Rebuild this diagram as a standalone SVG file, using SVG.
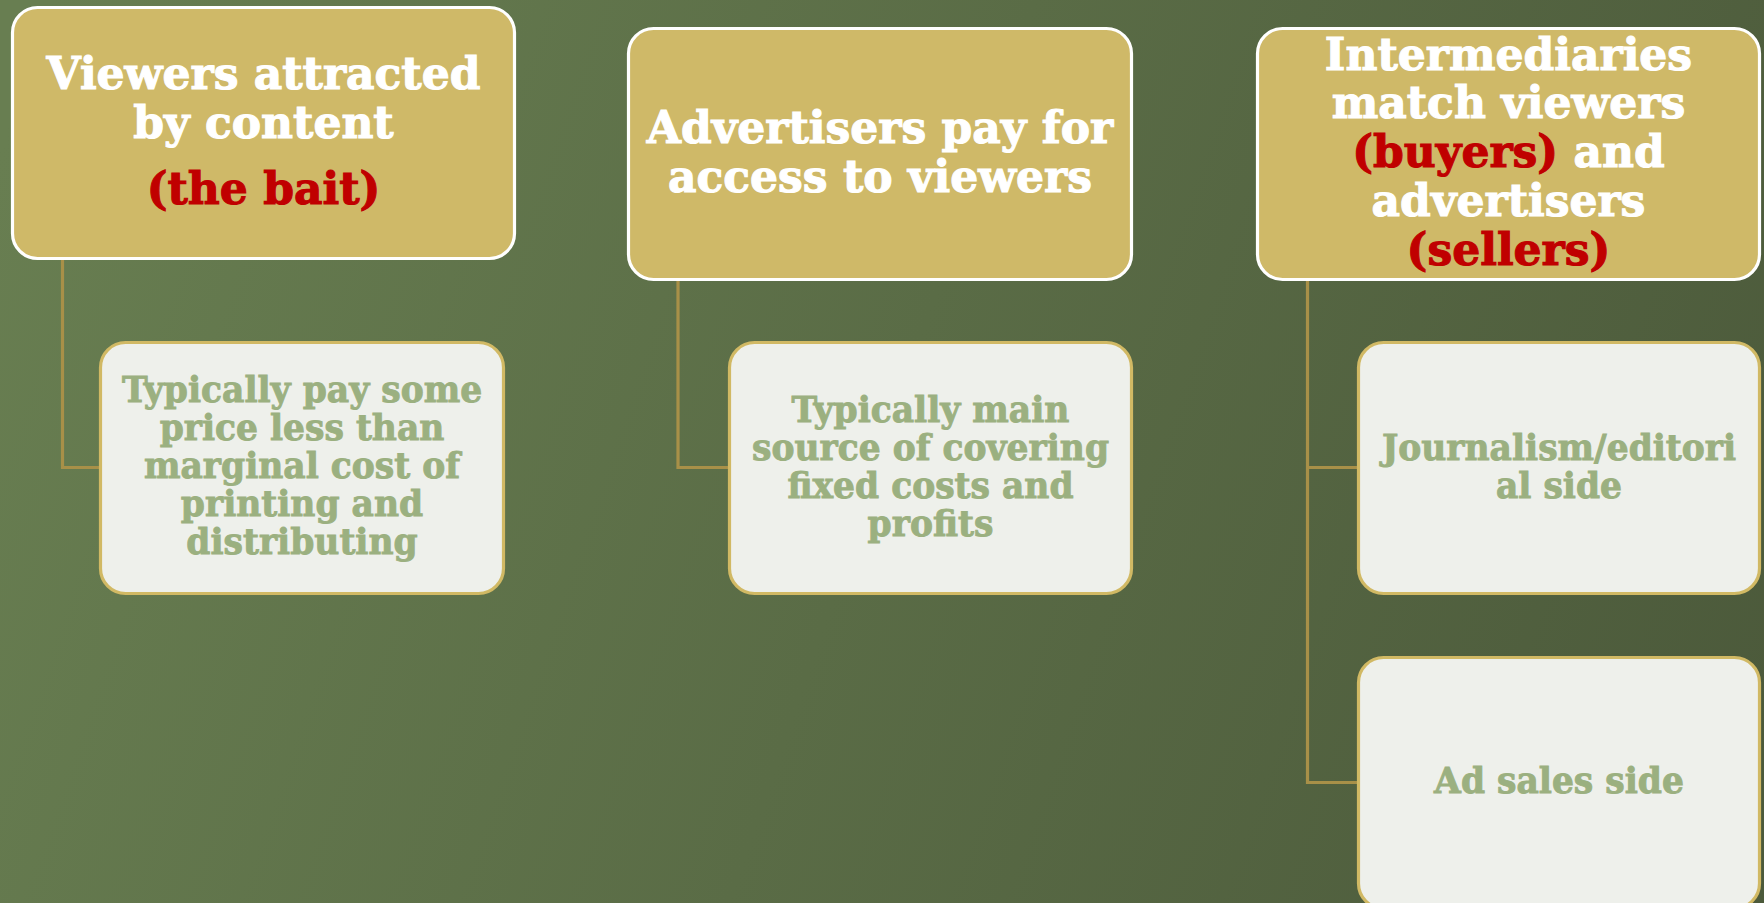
<svg xmlns="http://www.w3.org/2000/svg" width="1764" height="903" viewBox="0 0 1764 903">
  <defs>
    <linearGradient id="bg" gradientUnits="userSpaceOnUse" x1="0" y1="150" x2="1764" y2="750">
      <stop offset="0" stop-color="#687e51"/>
      <stop offset="1" stop-color="#4c5a3b"/>
    </linearGradient>
    <style>
      .head { fill: #cfb968; stroke: #ffffff; stroke-width: 3.2; }
      .child { fill: #eef0eb; stroke: #d1b964; stroke-width: 3.2; }
      .link { fill: none; stroke: #a89048; stroke-width: 3.2; }
      .ht { font-family: "DejaVu Serif", "Liberation Serif", serif; font-weight: bold; font-size: 44px; fill: #ffffff; stroke: #ffffff; stroke-width: 1.1; text-anchor: middle; }
      .red { fill: #c00000; stroke: #c00000; }
      .ct { font-family: "DejaVu Serif", "Liberation Serif", serif; font-weight: bold; font-size: 34.5px; fill: #9bb080; stroke: #9bb080; stroke-width: 0.9; text-anchor: middle; }
    </style>
  </defs>

  <rect x="0" y="0" width="1764" height="903" fill="url(#bg)"/>

  <!-- connectors -->
  <g id="connectors">
    <path class="link" d="M62.5,260 V467.5 H100.5"/>
    <path class="link" d="M678,281 V467.5 H729.5"/>
    <path class="link" d="M1307.5,281 V782.5 H1358.5"/>
    <path class="link" d="M1307.5,467.5 H1358.5"/>
  </g>

  <!-- column 1 -->
  <g id="viewers">
    <rect class="head" x="12.5" y="7.5" width="502" height="251" rx="25"/>
    <text class="ht" x="263.5" y="89">Viewers attracted</text>
    <text class="ht" x="263.5" y="138">by content</text>
    <text class="ht red" x="263.5" y="204">(the bait)</text>
  </g>
  <g id="viewers-price">
    <rect class="child" x="100.5" y="342.5" width="403" height="251" rx="25"/>
    <text class="ct" x="302" y="402">Typically pay some</text>
    <text class="ct" x="302" y="440">price less than</text>
    <text class="ct" x="302" y="478">marginal cost of</text>
    <text class="ct" x="302" y="516">printing and</text>
    <text class="ct" x="302" y="554">distributing</text>
  </g>

  <!-- column 2 -->
  <g id="advertisers">
    <rect class="head" x="628.5" y="28.5" width="503" height="251" rx="25"/>
    <text class="ht" x="880" y="143">Advertisers pay for</text>
    <text class="ht" x="880" y="192">access to viewers</text>
  </g>
  <g id="advertisers-source">
    <rect class="child" x="729.5" y="342.5" width="402" height="251" rx="25"/>
    <text class="ct" x="930.5" y="422">Typically main</text>
    <text class="ct" x="930.5" y="460">source of covering</text>
    <text class="ct" x="930.5" y="498">fixed costs and</text>
    <text class="ct" x="930.5" y="536">profits</text>
  </g>

  <!-- column 3 -->
  <g id="intermediaries">
    <rect class="head" x="1257.5" y="28.5" width="502" height="251" rx="25"/>
    <text class="ht" x="1508.5" y="70">Intermediaries</text>
    <text class="ht" x="1508.5" y="118">match viewers</text>
    <text class="ht" x="1508.5" y="167"><tspan class="red">(buyers)</tspan> and</text>
    <text class="ht" x="1508.5" y="216">advertisers</text>
    <text class="ht red" x="1508.5" y="265">(sellers)</text>
  </g>
  <g id="editorial-side">
    <rect class="child" x="1358.5" y="342.5" width="401" height="251" rx="25"/>
    <text class="ct" x="1559" y="460">Journalism/editori</text>
    <text class="ct" x="1559" y="498">al side</text>
  </g>
  <g id="ad-sales-side">
    <rect class="child" x="1358.5" y="657.5" width="401" height="251" rx="25"/>
    <text class="ct" x="1559" y="793">Ad sales side</text>
  </g>
</svg>
